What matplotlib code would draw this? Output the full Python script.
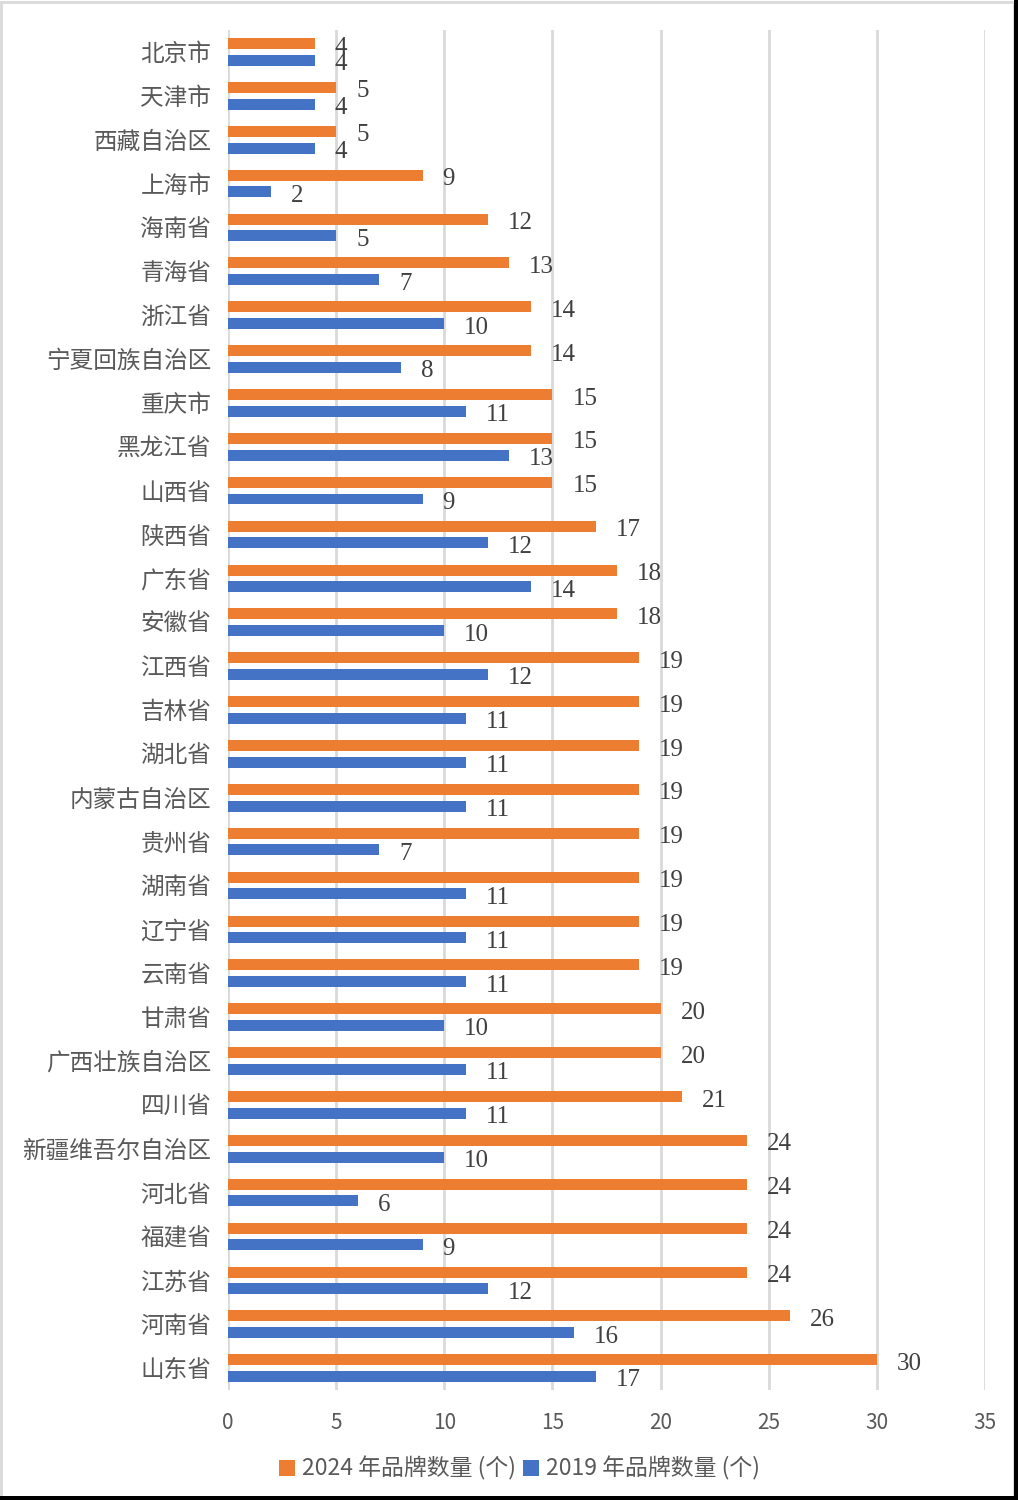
import matplotlib.pyplot as plt
import numpy as np

# 各省份品牌数量（从上到下）
provinces = [
    "北京市", "天津市", "西藏自治区", "上海市", "海南省", "青海省", "浙江省",
    "宁夏回族自治区", "重庆市", "黑龙江省", "山西省", "陕西省", "广东省", "安徽省",
    "江西省", "吉林省", "湖北省", "内蒙古自治区", "贵州省", "湖南省", "辽宁省",
    "云南省", "甘肃省", "广西壮族自治区", "四川省", "新疆维吾尔自治区", "河北省",
    "福建省", "江苏省", "河南省", "山东省",
]
brands_2024 = [4, 5, 5, 9, 12, 13, 14, 14, 15, 15, 15, 17, 18, 18, 19, 19, 19, 19,
               19, 19, 19, 19, 20, 20, 21, 24, 24, 24, 24, 26, 30]
brands_2019 = [4, 4, 4, 2, 5, 7, 10, 8, 11, 13, 9, 12, 14, 10, 12, 11, 11, 11,
               7, 11, 11, 11, 10, 11, 11, 10, 6, 9, 12, 16, 17]
x_ticks = [0, 5, 10, 15, 20, 25, 30, 35]

plt.rcParams['font.family'] = ['Noto Sans CJK SC', 'DejaVu Sans']

fig = plt.figure(figsize=(10.18, 15), dpi=100)
ax = fig.add_axes([0.224, 0.0733, 0.7436, 0.9067])

y = np.arange(len(provinces))
h = 0.25
off = 0.19
b1 = ax.barh(y - off, brands_2024, height=h, color='#ED7D31', label='2024 年品牌数量 (个)', zorder=3)
b2 = ax.barh(y + off, brands_2019, height=h, color='#4472C4', label='2019 年品牌数量 (个)', zorder=3)

# 数值标签
for bars, vals in ((b1, brands_2024), (b2, brands_2019)):
    for bar, v in zip(bars, vals):
        ax.annotate(str(v), (bar.get_width(), bar.get_y() + bar.get_height() / 2),
                    xytext=(20, -4), textcoords='offset pixels',
                    ha='left', va='center', fontsize=18,
                    family='Liberation Serif', color='#404040')

ax.set_ylim(len(provinces) - 0.5, -0.5)
ax.set_xlim(0, 35)
ax.set_yticks(y)
ax.set_yticklabels(provinces, fontsize=17, color='#595959')
ax.set_xticks(x_ticks)
ax.set_xticklabels([str(t) for t in x_ticks], fontsize=15, color='#595959')
ax.tick_params(length=0, pad=12)
ax.tick_params(axis='x', pad=16)

ax.grid(axis='x', color='#D9D9D9', linewidth=2, zorder=0)
for s in ax.spines.values():
    s.set_visible(False)

fig.legend(handles=[b1, b2], loc='center', bbox_to_anchor=(0.51, 0.021), ncol=2,
           frameon=False, fontsize=16.5, handlelength=0.7, handleheight=0.7,
           handletextpad=0.3, columnspacing=0.3, labelcolor='#595959')

# 外框
fig.patches.append(plt.Rectangle((0.001, 0.002), 0.995, 0.997, transform=fig.transFigure,
                                 fill=False, edgecolor='#D9D9D9', linewidth=2))
fig.patches.append(plt.Rectangle((0.996, 0), 0.004, 1, transform=fig.transFigure,
                                 color='black', linewidth=0))
fig.patches.append(plt.Rectangle((0, 0), 1, 0.0027, transform=fig.transFigure,
                                 color='black', linewidth=0))

fig.savefig('out.png', dpi=100)
